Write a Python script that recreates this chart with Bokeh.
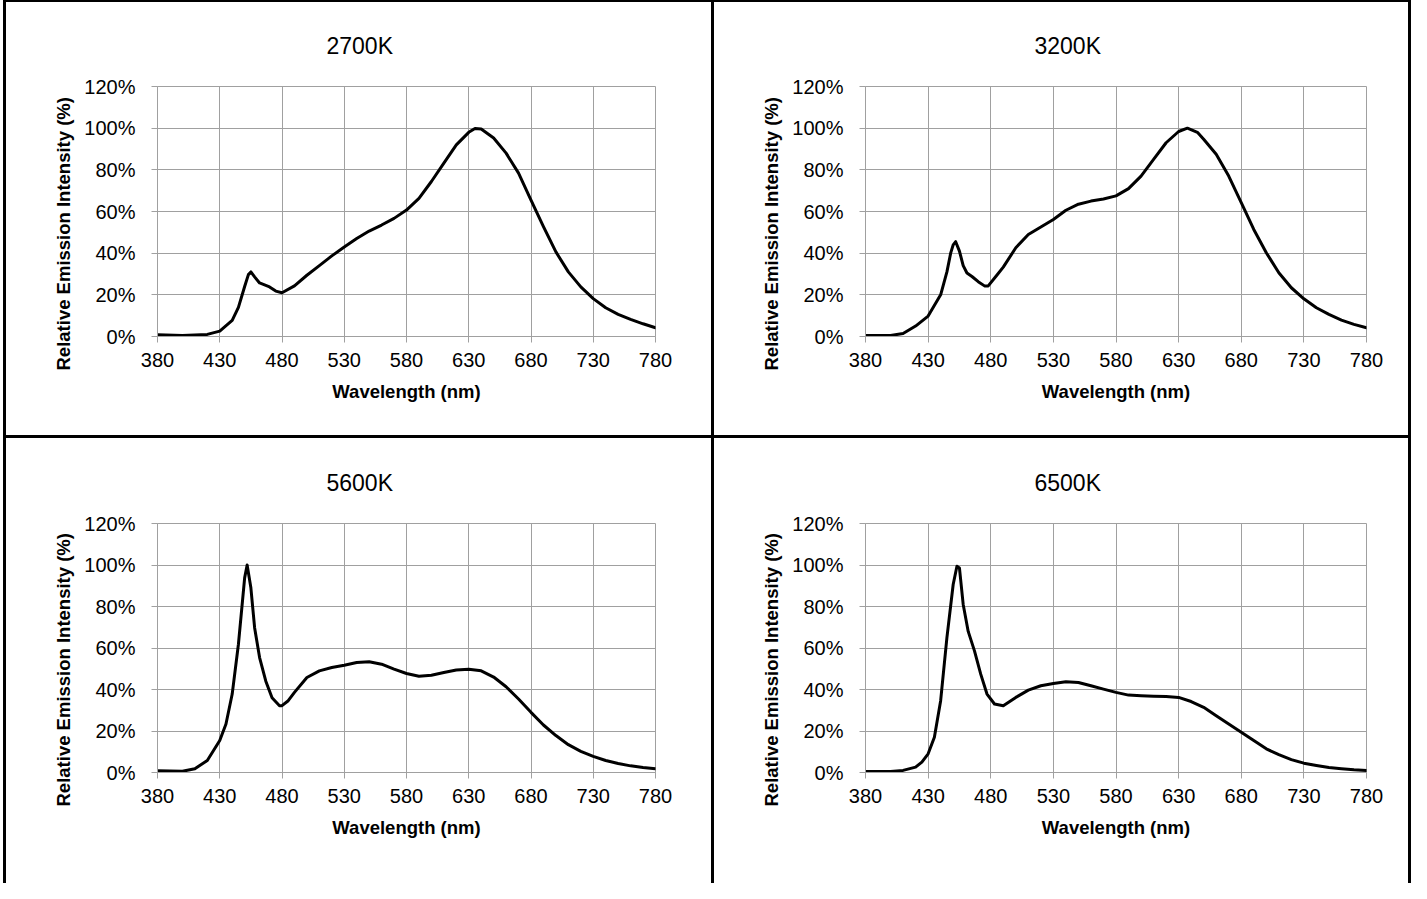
from bokeh.plotting import figure
from bokeh.models import FixedTicker, PrintfTickFormatter, Title, Div, Range1d
from bokeh.layouts import row, column
from bokeh.embed import file_html
from bokeh.resources import INLINE

# ---------------- data ----------------
titles = ["2700K", "3200K", "5600K", "6500K"]
x_ticks = [380, 430, 480, 530, 580, 630, 680, 730, 780]
y_ticks = [0, 20, 40, 60, 80, 100, 120]
x_label = "Wavelength (nm)"
y_label = "Relative Emission Intensity (%)"

wl_2700 = [380, 400, 420, 430, 440, 445, 450, 453, 455, 458, 462, 470, 475, 480, 490,
           500, 510, 520, 530, 540, 550, 560, 570, 580, 590, 600, 610, 620, 630, 635,
           640, 650, 660, 670, 680, 690, 700, 710, 720, 730, 740, 750, 760, 770, 780]
int_2700 = [0.8, 0.5, 1.0, 2.6, 7.7, 14.0, 24.0, 29.7, 31.0, 28.6, 25.7, 23.8, 21.8, 21.0, 24.3,
            29.4, 34.0, 38.7, 43.0, 47.0, 50.6, 53.5, 56.7, 60.7, 66.3, 74.4, 83.2, 92.0, 98.0, 99.8,
            99.6, 95.3, 88.0, 78.4, 65.5, 52.7, 40.6, 31.0, 23.8, 18.2, 13.8, 10.6, 8.2, 6.1, 4.2]

wl_3200 = [380, 400, 410, 420, 430, 440, 445, 448, 450, 452, 455, 458, 461, 465, 470, 475, 478,
           485, 490, 500, 510, 520, 530, 540, 550, 560, 570, 580, 590, 600, 610, 620, 630,
           637, 645, 650, 660, 670, 680, 690, 700, 710, 720, 730, 740, 750, 760, 770, 780]
int_3200 = [0.5, 0.5, 1.4, 5.0, 9.8, 20.0, 31.0, 40.0, 44.0, 45.5, 41.0, 34.0, 30.5, 28.8, 26.3, 24.3, 24.3,
            29.5, 33.3, 42.6, 49.0, 52.6, 56.2, 60.6, 63.5, 65.0, 66.0, 67.5, 71.0, 77.0, 85.0, 93.0, 98.4,
            100.0, 98.0, 94.7, 87.5, 77.0, 64.3, 51.4, 40.2, 30.6, 23.4, 18.1, 13.8, 10.6, 7.9, 5.8, 4.2]

wl_5600 = [380, 400, 410, 420, 430, 435, 440, 445, 450, 452, 455, 458, 462, 467, 472, 478,
           480, 485, 490, 500, 510, 520, 530, 540, 550, 560, 570, 580, 590, 600, 610, 620,
           630, 640, 650, 660, 670, 680, 690, 700, 710, 720, 730, 740, 750, 760, 770, 780]
int_5600 = [0.8, 0.6, 1.8, 5.8, 15.4, 23.4, 37.8, 61.8, 93.8, 100.0, 89.0, 69.8, 55.4, 44.0, 36.0, 32.2,
            32.2, 34.6, 38.6, 45.8, 49.0, 50.6, 51.7, 53.0, 53.4, 52.2, 49.8, 47.7, 46.4, 46.9, 48.2, 49.4,
            49.8, 49.0, 46.0, 41.3, 35.4, 29.0, 22.9, 17.8, 13.4, 10.2, 7.8, 5.8, 4.3, 3.2, 2.4, 1.8]

wl_6500 = [380, 400, 410, 420, 425, 430, 435, 440, 445, 450, 453, 455, 458, 462, 467, 472,
           477, 483, 490, 500, 510, 520, 530, 540, 550, 560, 570, 580, 590, 600, 610, 620,
           630, 640, 650, 660, 670, 680, 690, 700, 710, 720, 730, 740, 750, 760, 770, 780]
int_6500 = [0.5, 0.5, 1.0, 2.6, 5.0, 9.0, 17.0, 34.6, 65.0, 90.6, 99.4, 98.6, 81.0, 68.0, 58.6, 47.4,
            37.8, 33.0, 32.2, 36.2, 39.7, 41.8, 42.9, 43.7, 43.4, 41.8, 40.2, 38.6, 37.3, 37.0, 36.8, 36.6,
            36.2, 34.2, 31.4, 27.4, 23.4, 19.4, 15.4, 11.4, 8.6, 6.2, 4.5, 3.4, 2.4, 1.8, 1.3, 1.0]

series = [(wl_2700, int_2700), (wl_3200, int_3200), (wl_5600, int_5600), (wl_6500, int_6500)]

FONT = "Liberation Sans"
GRID = "#a0a0a0"


def make_panel(idx, w, h, left, right, top, bottom):
    p = figure(width=w, height=h, output_backend="svg", toolbar_location=None,
               x_range=Range1d(380, 780), y_range=Range1d(0, 120),
               min_border_left=left, min_border_right=right,
               min_border_top=top, min_border_bottom=bottom,
               background_fill_color="white", border_fill_color="white")
    p.title.text = titles[idx]
    p.title.align = "left"
    p.title.offset = 169
    p.title.text_font = FONT
    p.title.text_font_size = "23px"
    p.title.text_font_style = "normal"
    p.title.text_color = "black"
    p.title.standoff = 56

    p.outline_line_color = GRID
    p.outline_line_width = 1

    p.xgrid.ticker = FixedTicker(ticks=x_ticks)
    p.ygrid.ticker = FixedTicker(ticks=y_ticks)
    p.xgrid.grid_line_color = GRID
    p.ygrid.grid_line_color = GRID
    p.xgrid.grid_line_width = 1
    p.ygrid.grid_line_width = 1

    p.xaxis.ticker = FixedTicker(ticks=x_ticks)
    p.yaxis.ticker = FixedTicker(ticks=y_ticks)
    p.yaxis.formatter = PrintfTickFormatter(format="%d%%")
    for ax in (p.xaxis[0], p.yaxis[0]):
        ax.axis_line_color = GRID
        ax.major_tick_line_color = GRID
        ax.minor_tick_line_color = None
        ax.major_tick_in = 0
        ax.major_tick_out = 6
        ax.major_label_text_font = FONT
        ax.major_label_text_font_size = "20px"
        ax.major_label_text_color = "black"
    p.xaxis.major_label_standoff = 10
    p.yaxis.major_label_standoff = 16

    p.xaxis.axis_label = x_label
    p.xaxis.axis_label_text_font = FONT
    p.xaxis.axis_label_text_font_size = "18.5px"
    p.xaxis.axis_label_text_font_style = "bold"
    p.xaxis.axis_label_text_color = "black"
    p.xaxis.axis_label_standoff = 11

    yt = Title(text=y_label, align="left", offset=-34, text_font=FONT,
               text_font_size="18.5px", text_font_style="bold", text_color="black",
               standoff=15)
    p.add_layout(yt, "left")

    xs, ys = series[idx]
    p.line(xs, ys, line_color="black", line_width=3, line_join="round", line_cap="round")
    return p


W1 = 705
W2 = 694
H1 = 433
H2 = 445
p1 = make_panel(0, W1, H1, 151, 56, 84, 99)
p2 = make_panel(1, W2, H1, 151, 42, 84, 99)
p3 = make_panel(2, W1, H2, 151, 56, 85, 111)
p4 = make_panel(3, W2, H2, 151, 42, 85, 111)


def vline(h):
    return Div(text="", width=3, height=h, margin=0, styles={"background-color": "black"})


def spacer(h):
    return Div(text="", width=3, height=h, margin=0)


def hline(h):
    return Div(text="", width=1411, height=h, margin=0,
               styles={"background": "linear-gradient(to right, white 0px, white 3px, black 3px)"})


layout = column(
    hline(2),
    row(spacer(H1), vline(H1), p1, vline(H1), p2, vline(H1), spacing=0),
    hline(3),
    row(spacer(H2), vline(H2), p3, vline(H2), p4, vline(H2), spacing=0),
    spacing=0,
)

with open("out.html", "w") as f:
    f.write(file_html(layout, INLINE))
